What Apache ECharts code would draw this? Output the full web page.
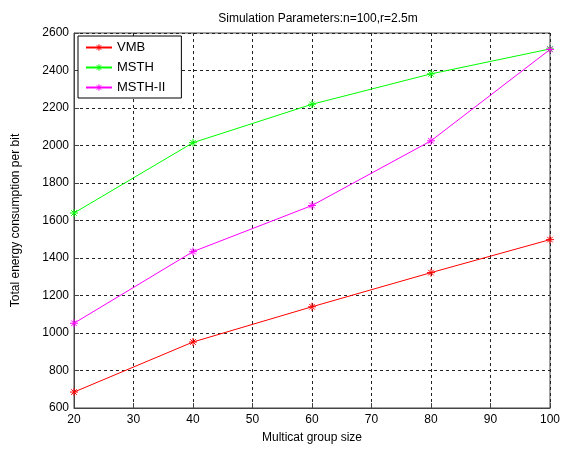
<!DOCTYPE html>
<html>
<head>
<meta charset="utf-8">
<script src="https://cdn.jsdelivr.net/npm/echarts@6/dist/echarts.min.js"></script>
<style>html,body{margin:0;padding:0;background:#fff;}#c{width:563px;height:449px;}</style>
</head>
<body>
<div id="c"></div>
<script>
var groupSizes = [20, 40, 60, 80, 100];
var vmb = [685, 952, 1140, 1322, 1498];
var msth = [1640, 2015, 2220, 2382, 2515];
var msth2 = [1052, 1434, 1680, 2025, 2512];
var seriesNames = ['VMB', 'MSTH', 'MSTH-II'];
var seriesColors = ['#ff0000', '#00ff00', '#ff00ff'];

var star = 'path://M0,5L10,5M5,0L5,10M1.5,1.5L8.5,8.5M8.5,1.5L1.5,8.5';
function pairs(ys){ return groupSizes.map(function(x,i){return [x, ys[i]];}); }
var allData = [vmb, msth, msth2];
var font = 'Liberation Sans, Arial, sans-serif';

var chart = echarts.init(document.getElementById('c'));
chart.setOption({
  animation: false,
  backgroundColor: '#fff',
  title: {
    text: 'Simulation Parameters:n=100,r=2.5m',
    left: 313, top: 8, textAlign: 'center',
    textStyle: {fontFamily: font, fontSize: 12, fontWeight: 'normal', color: '#000'}
  },
  legend: {
    left: 78, top: 36, orient: 'vertical',
    itemWidth: 26, itemHeight: 8, itemGap: 7,
    padding: [5, 16, 4, 7],
    borderColor: '#000', borderWidth: 1, backgroundColor: '#fff',
    textStyle: {fontFamily: font, fontSize: 13, color: '#000'},
    itemStyle: {color: 'transparent', borderWidth: 1},
    data: seriesNames
  },
  grid: {left: 74, right: 10, top: 33, bottom: 39, show: true, borderColor: '#444', borderWidth: 1},
  xAxis: {
    type: 'value', min: 20, max: 100, interval: 10,
    name: 'Multicat group size', nameLocation: 'middle', nameGap: 24,
    nameTextStyle: {fontFamily: font, fontSize: 12, color: '#000'},
    axisLine: {lineStyle: {color: '#444'}},
    axisTick: {inside: true, length: 5, lineStyle: {color: '#444'}},
    axisLabel: {fontFamily: font, fontSize: 12, color: '#000', margin: 6},
    splitLine: {show: true, lineStyle: {color: '#222', type: [3, 3], width: 1}}
  },
  yAxis: {
    type: 'value', min: 600, max: 2600, interval: 200,
    name: 'Total energy consumption per bit', nameLocation: 'middle', nameGap: 52,
    nameTextStyle: {fontFamily: font, fontSize: 12, color: '#000'},
    axisLine: {show: true, lineStyle: {color: '#444'}},
    axisTick: {show: true, inside: true, length: 5, lineStyle: {color: '#444'}},
    axisLabel: {fontFamily: font, fontSize: 12, color: '#000', margin: 5, formatter: function(v){return String(v);}},
    splitLine: {show: true, lineStyle: {color: '#222', type: [3, 3], width: 1}}
  },
  series: seriesNames.map(function(n, i){
    return {
      name: n, type: 'line', data: pairs(allData[i]),
      symbol: star, symbolSize: 8, showAllSymbol: true,
      lineStyle: {color: seriesColors[i], width: 1},
      itemStyle: {color: seriesColors[i], borderColor: seriesColors[i], borderWidth: 1}
    };
  })
});
</script>
</body>
</html>
